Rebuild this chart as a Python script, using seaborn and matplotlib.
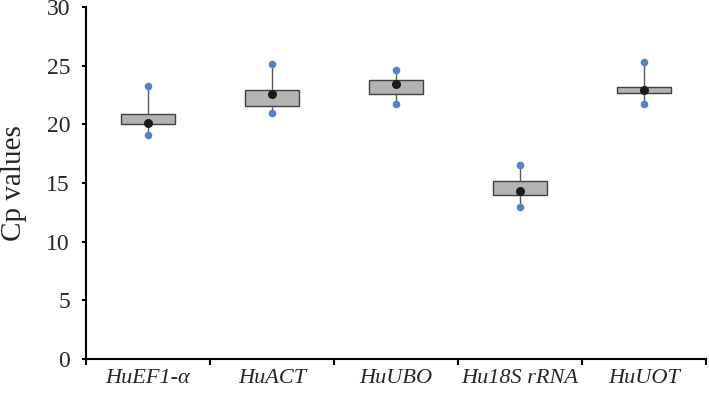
import numpy as np
import pandas as pd
import matplotlib
matplotlib.use("Agg")
import matplotlib.pyplot as plt
import seaborn as sns
from matplotlib.ticker import FixedLocator, NullFormatter

genes = ["HuEF1-α", "HuACT", "HuUBO", "Hu18S rRNA", "HuUOT"]
cp_min = [19.1, 21.0, 21.7, 12.95, 21.7]
cp_q1 = [20.0, 21.6, 22.6, 13.95, 22.7]
cp_median = [20.1, 22.6, 23.4, 14.3, 22.9]
cp_q3 = [20.9, 22.9, 23.8, 15.2, 23.2]
cp_max = [23.3, 25.1, 24.6, 16.5, 25.3]

rows = []
for g, a, b, c, d, e in zip(genes, cp_min, cp_q1, cp_median, cp_q3, cp_max):
    for v in (a, b, c, d, e):
        rows.append({"gene": g, "cp": v})
df = pd.DataFrame(rows)
ext = pd.DataFrame({"gene": genes * 2, "cp": cp_min + cp_max})
med = pd.DataFrame({"gene": genes, "cp": cp_median})

sns.set_style("white")
plt.rcParams["font.family"] = ["Liberation Serif", "DejaVu Serif"]

fig = plt.figure(figsize=(7.09, 3.96), dpi=100)
ax = fig.add_axes([0.1213, 0.0934, 0.8745, 0.889])

sns.boxplot(data=df, x="gene", y="cp", order=genes, whis=(0, 100), width=0.43,
            color="#b3b3b3", saturation=1, showcaps=False, fliersize=0,
            boxprops=dict(edgecolor="#404040", linewidth=1.0),
            whiskerprops=dict(color="#595959", linewidth=1.0),
            medianprops=dict(linewidth=0), ax=ax)
sns.stripplot(data=ext, x="gene", y="cp", order=genes, jitter=False,
              color="#5684c0", size=5.5, linewidth=0, ax=ax, zorder=5)
sns.stripplot(data=med, x="gene", y="cp", order=genes, jitter=False,
              color="#1a1a1a", size=6.5, linewidth=0, ax=ax, zorder=6)

ax.set_xlim(-0.5, 4.5)
ax.set_ylim(0, 30)
ax.set_yticks([0, 5, 10, 15, 20, 25, 30])
ax.xaxis.set_major_locator(FixedLocator(np.arange(-0.5, 5.0, 1.0)))
ax.xaxis.set_major_formatter(NullFormatter())
ax.xaxis.set_minor_locator(FixedLocator(np.arange(5)))
ax.set_xticklabels(genes, minor=True, fontstyle="italic", fontsize=16)
ax.tick_params(axis="x", which="minor", length=0, pad=7)
ax.tick_params(axis="x", which="major", length=4, width=1.5, direction="out", color="black")
ax.tick_params(axis="y", length=3, width=1.5, direction="out", color="black", labelsize=17, pad=8.5)
ax.tick_params(bottom=True, left=True)

for s in ["top", "right"]:
    ax.spines[s].set_visible(False)
for s in ["left", "bottom"]:
    ax.spines[s].set_color("black")
    ax.spines[s].set_linewidth(1.5)

ax.set_xlabel("")
ax.set_ylabel("Cp values", fontsize=21, labelpad=14)

fig.savefig("out.png", dpi=100)
